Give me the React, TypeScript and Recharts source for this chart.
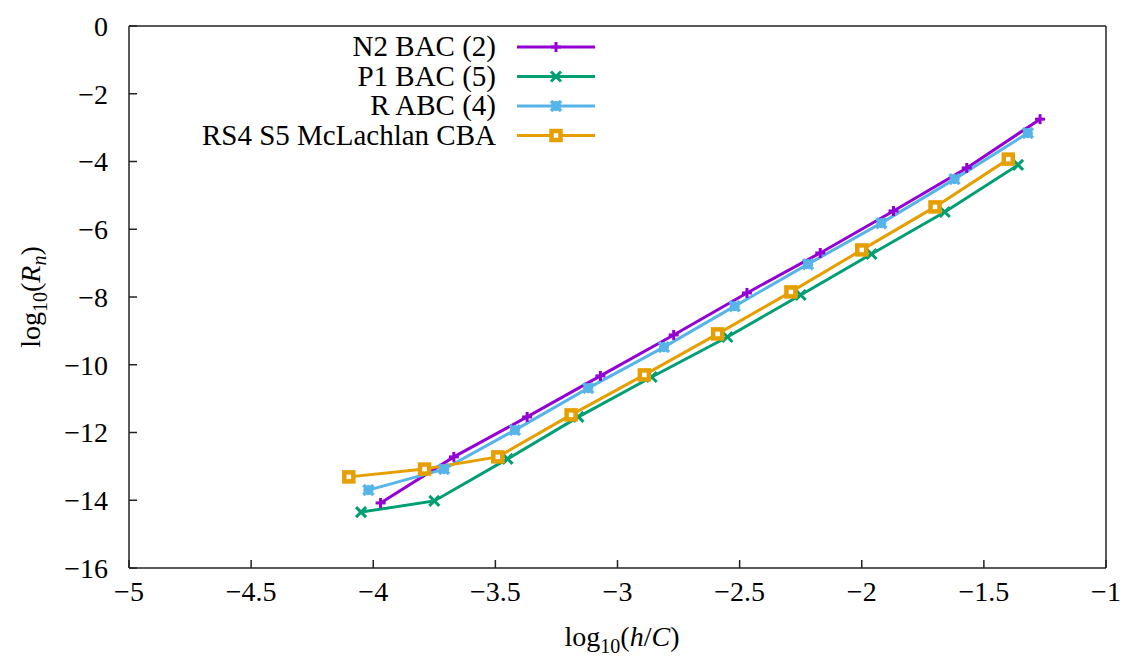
import { Legend, Line, LineChart, XAxis, YAxis } from "recharts";

const n2X = [-3.97, -3.67, -3.37, -3.07, -2.77, -2.47, -2.17, -1.87, -1.57, -1.27];
const n2Y = [-14.08, -12.72, -11.54, -10.33, -9.12, -7.88, -6.7, -5.46, -4.19, -2.75];

const p1X = [-4.05, -3.75, -3.45, -3.16, -2.86, -2.55, -2.25, -1.96, -1.66, -1.36];
const p1Y = [-14.35, -14.02, -12.78, -11.54, -10.36, -9.18, -7.94, -6.73, -5.49, -4.1];

const rX = [-4.02, -3.71, -3.42, -3.12, -2.81, -2.52, -2.22, -1.92, -1.62, -1.32];
const rY = [-13.7, -13.08, -11.93, -10.69, -9.48, -8.27, -7.03, -5.82, -4.52, -3.16];

const rsX = [-4.1, -3.79, -3.49, -3.19, -2.89, -2.59, -2.29, -2.0, -1.7, -1.4];
const rsY = [-13.31, -13.08, -12.72, -11.48, -10.3, -9.09, -7.85, -6.61, -5.34, -3.93];

const xTicks = [-5, -4.5, -4, -3.5, -3, -2.5, -2, -1.5, -1];
const yTicks = [0, -2, -4, -6, -8, -10, -12, -14, -16];

const FONT = "Liberation Serif, Times New Roman, DejaVu Serif, serif";
const AXIS = "#222";

const toPts = (xs: number[], ys: number[]) => xs.map((x, i) => ({ x, y: ys[i] }));
const fmt = (v: number) => (v < 0 ? "\u2212" + String(-v) : String(v));

type Mark = "plus" | "cross" | "star" | "square";

const Marker = ({ cx, cy, kind, color }: { cx: number; cy: number; kind: Mark; color: string }) => {
  const s = 5;
  if (kind === "plus")
    return (
      <g stroke={color} strokeWidth={3}>
        <line x1={cx - s} y1={cy} x2={cx + s} y2={cy} />
        <line x1={cx} y1={cy - s} x2={cx} y2={cy + s} />
      </g>
    );
  if (kind === "cross")
    return (
      <g stroke={color} strokeWidth={3}>
        <line x1={cx - s} y1={cy - s} x2={cx + s} y2={cy + s} />
        <line x1={cx - s} y1={cy + s} x2={cx + s} y2={cy - s} />
      </g>
    );
  if (kind === "star")
    return (
      <g stroke={color} strokeWidth={3.5}>
        <line x1={cx - s} y1={cy} x2={cx + s} y2={cy} />
        <line x1={cx} y1={cy - s} x2={cx} y2={cy + s} />
        <line x1={cx - s} y1={cy - s} x2={cx + s} y2={cy + s} />
        <line x1={cx - s} y1={cy + s} x2={cx + s} y2={cy - s} />
      </g>
    );
  return <rect x={cx - 4.5} y={cy - 4.5} width={9} height={9} fill="#fff" stroke={color} strokeWidth={4.5} />;
};

const series = [
  { name: "N2 BAC (2)", color: "#9400d3", mark: "plus" as Mark, data: toPts(n2X, n2Y) },
  { name: "P1 BAC (5)", color: "#009e73", mark: "cross" as Mark, data: toPts(p1X, p1Y) },
  { name: "R ABC (4)", color: "#56b4e9", mark: "star" as Mark, data: toPts(rX, rY) },
  { name: "RS4 S5 McLachlan CBA", color: "#e69f00", mark: "square" as Mark, data: toPts(rsX, rsY) },
];

const LegendBox = () => (
  <svg width={620} height={160} style={{ display: "block" }}>
    {series.map((s, i) => {
      const y = 47 + i * 29.5;
      return (
        <g key={s.name}>
          <text x={496} y={y + 9} textAnchor="end" style={{ fontFamily: FONT, fontSize: 29 }} fill="#000">
            {s.name}
          </text>
          <line x1={517} y1={y} x2={595} y2={y} stroke={s.color} strokeWidth={3} />
          <Marker cx={556} cy={y} kind={s.mark} color={s.color} />
        </g>
      );
    })}
  </svg>
);

const YTitle = () => (
  <text x={40} y={297} transform="rotate(-90, 40, 297)" textAnchor="middle" style={{ fontFamily: FONT, fontSize: 28 }}>
    log<tspan dy={7} style={{ fontSize: 20 }}>10</tspan>
    <tspan dy={-7}>(</tspan>
    <tspan fontStyle="italic">R</tspan>
    <tspan dy={6} style={{ fontSize: 20 }} fontStyle="italic">n</tspan>
    <tspan dy={-6}>)</tspan>
  </text>
);

const XTitle = () => (
  <text x={622} y={646} textAnchor="middle" style={{ fontFamily: FONT, fontSize: 28 }}>
    log<tspan dy={7} style={{ fontSize: 20 }}>10</tspan>
    <tspan dy={-7}>(</tspan>
    <tspan fontStyle="italic">h</tspan>/<tspan fontStyle="italic">C</tspan>)
  </text>
);

const tickStyle = { fontFamily: FONT, fontSize: 28, fill: "#000", style: { fontFamily: FONT } };
const axisLine = { stroke: AXIS, strokeWidth: 1.5 };
const tickLine = { stroke: AXIS, strokeWidth: 1.5 };

export default function App() {
  return (
    <div style={{ position: "absolute", left: 0, top: 0, fontFamily: FONT }}>
      <LineChart width={1122} height={658} margin={{ top: 20, right: 10, left: 0, bottom: 0 }} style={{ fontFamily: FONT }}>
        <XAxis
          type="number"
          dataKey="x"
          domain={[-5, -1]}
          ticks={xTicks}
          tickFormatter={fmt}
          height={90}
          tickSize={-8}
          tickMargin={21}
          tick={tickStyle}
          axisLine={axisLine}
          tickLine={tickLine}
          allowDataOverflow
          label={{ content: () => <XTitle /> }}
        />
        <XAxis
          xAxisId="top"
          orientation="top"
          type="number"
          domain={[-5, -1]}
          ticks={xTicks}
          tickFormatter={() => ""}
          height={6}
          tickSize={-8}
          axisLine={axisLine}
          tickLine={tickLine}
        />
        <YAxis
          type="number"
          dataKey="y"
          domain={[-16, 0]}
          ticks={yTicks}
          tickFormatter={fmt}
          width={129}
          tickSize={-8}
          tickMargin={29}
          tick={tickStyle}
          axisLine={axisLine}
          tickLine={tickLine}
          allowDataOverflow
          label={{ content: () => <YTitle /> }}
        />
        <YAxis
          yAxisId="right"
          orientation="right"
          type="number"
          domain={[-16, 0]}
          ticks={yTicks}
          tickFormatter={() => ""}
          width={6}
          tickSize={-8}
          axisLine={axisLine}
          tickLine={tickLine}
        />
        <Legend
          layout="horizontal"
          verticalAlign="middle"
          align="center"
          content={() => <LegendBox />}
          wrapperStyle={{ left: 0, top: 0, width: 620, height: 160 }}
        />
        {series.map((s) => (
          <Line
            key={s.name}
            name={s.name}
            data={s.data}
            dataKey="y"
            type="linear"
            stroke={s.color}
            strokeWidth={3}
            dot={(p: any) => <Marker key={`${s.name}-${p.index}`} cx={p.cx} cy={p.cy} kind={s.mark} color={s.color} />}
            activeDot={false}
            isAnimationActive={false}
          />
        ))}
      </LineChart>
    </div>
  );
}
